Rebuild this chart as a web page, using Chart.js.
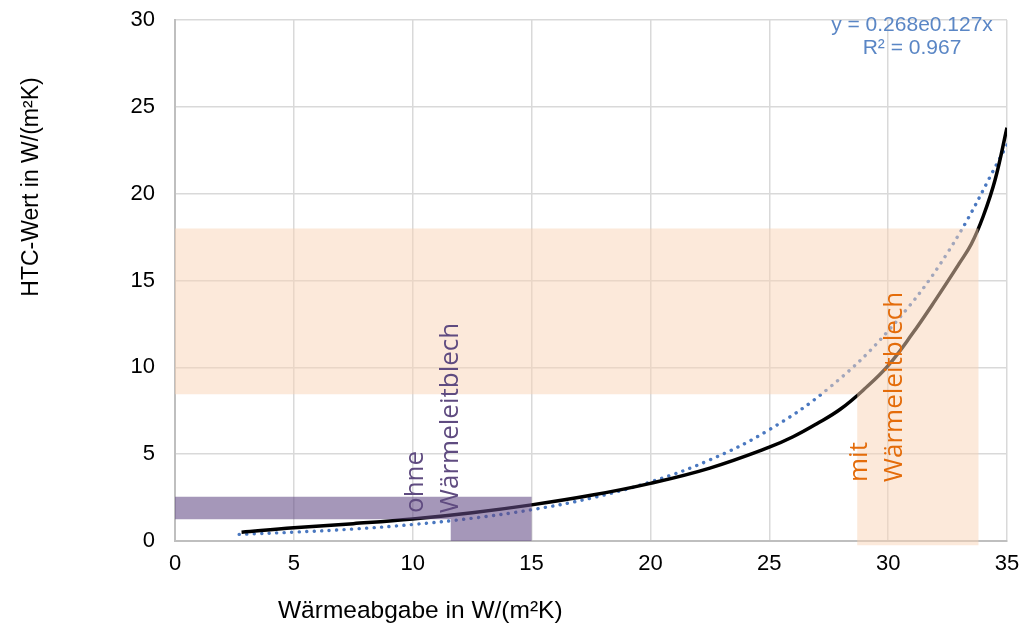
<!DOCTYPE html>
<html lang="de">
<head>
    <meta charset="UTF-8">
    <title>HTC-Wert</title>
    <script src="https://cdn.jsdelivr.net/npm/chart.js@4.4.0/dist/chart.umd.min.js"></script>
    <style>
        * { margin: 0; padding: 0; box-sizing: border-box; }
        body { width: 1022px; height: 628px; background: #fff; overflow: hidden; }
        #wrap { width: 1022px; height: 628px; }
    </style>
</head>
<body>
<div id="wrap"><canvas id="chart" width="1022" height="628"></canvas></div>
<script>
// measured curve (black)
const measX = [2.8, 5, 7.5, 10, 12.5, 15, 17.5, 20, 22.5, 25, 26, 27, 28, 29, 30, 31, 32, 33, 33.5, 34, 34.5, 35]
const measY = [0.5, 0.76, 1.0, 1.27, 1.63, 2.08, 2.63, 3.32, 4.2, 5.4, 6.0, 6.75, 7.6, 8.75, 10.1, 11.9, 13.9, 16.0, 17.1, 18.7, 20.8, 23.8]

// exponential trendline (dotted)
const trendX = [2.7, 5, 7.5, 10, 12.5, 15, 17.5, 20, 22.5, 25, 27.5, 30, 32.5, 35]
const trendY = [0.38, 0.51, 0.69, 0.95, 1.31, 1.8, 2.47, 3.4, 4.67, 6.41, 8.8, 12.1, 16.6, 22.8]

const xTicks = [0, 5, 10, 15, 20, 25, 30, 35]
const yTicks = [0, 5, 10, 15, 20, 25, 30]

// highlighted regions as polygons in data units
const regionOhne = [[0, 2.55], [15, 2.55], [15, 0], [11.6, 0], [11.6, 1.25], [0, 1.25]]
const regionMit = [[0, 18], [33.8, 18], [33.8, -0.25], [28.7, -0.25], [28.7, 8.45], [0, 8.45]]

const trendLabel = ['y = 0.268e0.127x', 'R² = 0.967']
const ohneLabel = ['ohne', 'Wärmeleitblech']
const mitLabel = ['mit', 'Wärmeleitblech']
const xTitle = 'Wärmeabgabe in W/(m²K)'
const yTitle = 'HTC-Wert in W/(m²K)'

const toPoints = (xs, ys) => xs.map((x, i) => ({ x: x, y: ys[i] }))

const overlay = {
    id: 'overlay',
    afterDatasetsDraw(chart) {
        const ctx = chart.ctx
        const xs = chart.scales.x, ys = chart.scales.y

        function poly(pts, color) {
            ctx.save()
            ctx.fillStyle = color
            ctx.beginPath()
            pts.forEach((p, i) => {
                const px = xs.getPixelForValue(p[0]), py = ys.getPixelForValue(p[1])
                if (i === 0) ctx.moveTo(px, py); else ctx.lineTo(px, py)
            })
            ctx.closePath()
            ctx.fill()
            ctx.restore()
        }
        poly(regionMit, 'rgba(250, 212, 182, 0.5)')
        poly(regionOhne, 'rgba(100, 75, 135, 0.58)')

        function vtext(lines, x, y, gap, color) {
            ctx.save()
            ctx.font = '26px "Open Sans"'
            ctx.fillStyle = color
            ctx.textAlign = 'left'
            ctx.textBaseline = 'alphabetic'
            lines.forEach((t, i) => {
                ctx.save()
                ctx.translate(x + i * gap, y)
                ctx.rotate(-Math.PI / 2)
                ctx.fillText(t, 0, 0)
                ctx.restore()
            })
            ctx.restore()
        }
        vtext(ohneLabel, 423, 513, 35, '#5f4b80')
        vtext(mitLabel, 867, 482, 35, '#e46c0a')

        ctx.save()
        ctx.font = '21px Arial, "Liberation Sans"'
        ctx.fillStyle = '#5a86c5'
        ctx.textAlign = 'center'
        ctx.textBaseline = 'middle'
        ctx.fillText(trendLabel[0], 912, 25)
        ctx.fillText(trendLabel[1], 912, 48)
        ctx.restore()

        ctx.save()
        ctx.fillStyle = '#000'
        ctx.textBaseline = 'middle'
        ctx.textAlign = 'left'
        ctx.font = '24.5px Arial, "Liberation Sans"'
        ctx.fillText(xTitle, 278, 611)
        ctx.font = '23px Arial, "Liberation Sans"'
        ctx.translate(32, 187)
        ctx.rotate(-Math.PI / 2)
        ctx.textAlign = 'center'
        ctx.fillText(yTitle, 0, 0)
        ctx.restore()
    }
}

const tickFont = { family: 'Arial, "Liberation Sans"', size: 22 }

new Chart(document.getElementById('chart').getContext('2d'), {
    type: 'scatter',
    data: {
        datasets: [{
            label: 'Messung',
            data: toPoints(measX, measY),
            showLine: true,
            borderColor: '#000',
            borderWidth: 3.5,
            pointRadius: 0,
            tension: 0.4,
            order: 1
        }, {
            label: 'Trend',
            data: toPoints(trendX, trendY),
            showLine: true,
            borderColor: '#4a78c0',
            borderWidth: 3.4,
            borderDash: [0.1, 7.4],
            borderCapStyle: 'round',
            pointRadius: 0,
            tension: 0.4,
            order: 2
        }]
    },
    options: {
        responsive: false,
        animation: false,
        layout: { padding: { left: 0, right: 15, top: 20, bottom: 0 } },
        plugins: { legend: { display: false }, tooltip: { enabled: false } },
        scales: {
            x: {
                type: 'linear',
                min: 0, max: 35,
                afterBuildTicks: s => { s.ticks = xTicks.map(v => ({ value: v })) },
                afterFit: s => { s.height = 87; s.paddingLeft = 0; s.paddingRight = 0 },
                ticks: { color: '#000', font: tickFont, padding: 10, maxRotation: 0 },
                grid: { color: '#d9d9d9', lineWidth: 1.5, drawTicks: false },
                border: { color: '#bfbfbf', width: 2 }
            },
            y: {
                type: 'linear',
                min: 0, max: 30,
                afterBuildTicks: s => { s.ticks = yTicks.map(v => ({ value: v })) },
                afterFit: s => { s.width = 175; s.paddingTop = 0; s.paddingBottom = 0 },
                ticks: { color: '#000', font: tickFont, padding: 20 },
                grid: { color: '#d9d9d9', lineWidth: 1.5, drawTicks: false },
                border: { color: '#bfbfbf', width: 2 }
            }
        }
    },
    plugins: [overlay]
})
</script>
</body>
</html>
